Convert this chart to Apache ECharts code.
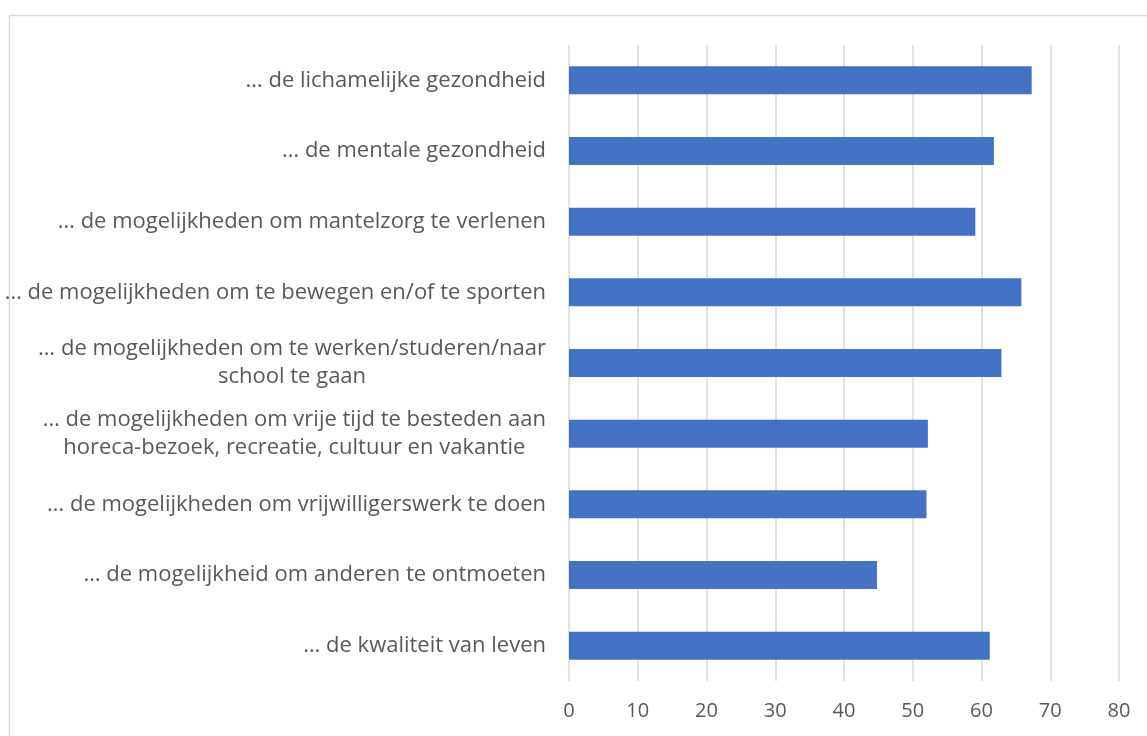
<!DOCTYPE html>
<html>
<head>
<meta charset="utf-8">
<script src="https://cdn.jsdelivr.net/npm/echarts@6/dist/echarts.min.js"></script>
<style>
html,body{margin:0;padding:0;background:#fff;}
#c{width:1147px;height:736px;}
</style>
</head>
<body>
<div id="c"></div>
<script>
const categories = [
  "… de lichamelijke gezondheid",
  "… de mentale gezondheid",
  "… de mogelijkheden om mantelzorg te verlenen",
  "… de mogelijkheden om te bewegen en/of te sporten",
  "… de mogelijkheden om te werken/studeren/naar\nschool te gaan",
  "… de mogelijkheden om vrije tijd te besteden aan\nhoreca-bezoek, recreatie, cultuur en vakantie",
  "… de mogelijkheden om vrijwilligerswerk te doen",
  "… de mogelijkheid om anderen te ontmoeten",
  "… de kwaliteit van leven"
];
const values = [67.3, 61.8, 59.1, 65.8, 62.9, 52.2, 52.0, 44.8, 61.2];
const xTicks = [0, 10, 20, 30, 40, 50, 60, 70, 80];

const FONT = 'Open Sans';
const chart = echarts.init(document.getElementById('c'), null, {renderer: 'canvas'});
chart.setOption({
  animation: false,
  backgroundColor: '#ffffff',
  graphic: [{
    type: 'rect',
    shape: {x: 9.5, y: 15.5, width: 1300, height: 900},
    style: {fill: 'none', stroke: '#d9d9d9', lineWidth: 1.5},
    silent: true, z: -10
  }],
  grid: {left: 569, right: 28, top: 45, bottom: 55},
  xAxis: {
    type: 'value',
    min: xTicks[0],
    max: xTicks[xTicks.length - 1],
    interval: 10,
    axisLine: {show: false},
    axisTick: {show: false},
    splitLine: {lineStyle: {color: '#d9d9d9', width: 1.5}},
    axisLabel: {color: '#595959', fontSize: 20, fontFamily: FONT, margin: 20}
  },
  yAxis: {
    type: 'category',
    inverse: true,
    data: categories,
    axisLine: {show: false},
    axisTick: {show: false},
    axisLabel: {
      margin: 23,
      formatter: v => v.split('\n').map(l => '{c|' + l + '}').join('\n'),
      rich: {c: {align: 'center', color: '#595959', fontSize: 22, fontFamily: FONT, lineHeight: 28}}
    }
  },
  series: [{
    type: 'bar',
    data: values,
    barWidth: 28,
    itemStyle: {color: '#4472C4'}
  }]
});
</script>
</body>
</html>
